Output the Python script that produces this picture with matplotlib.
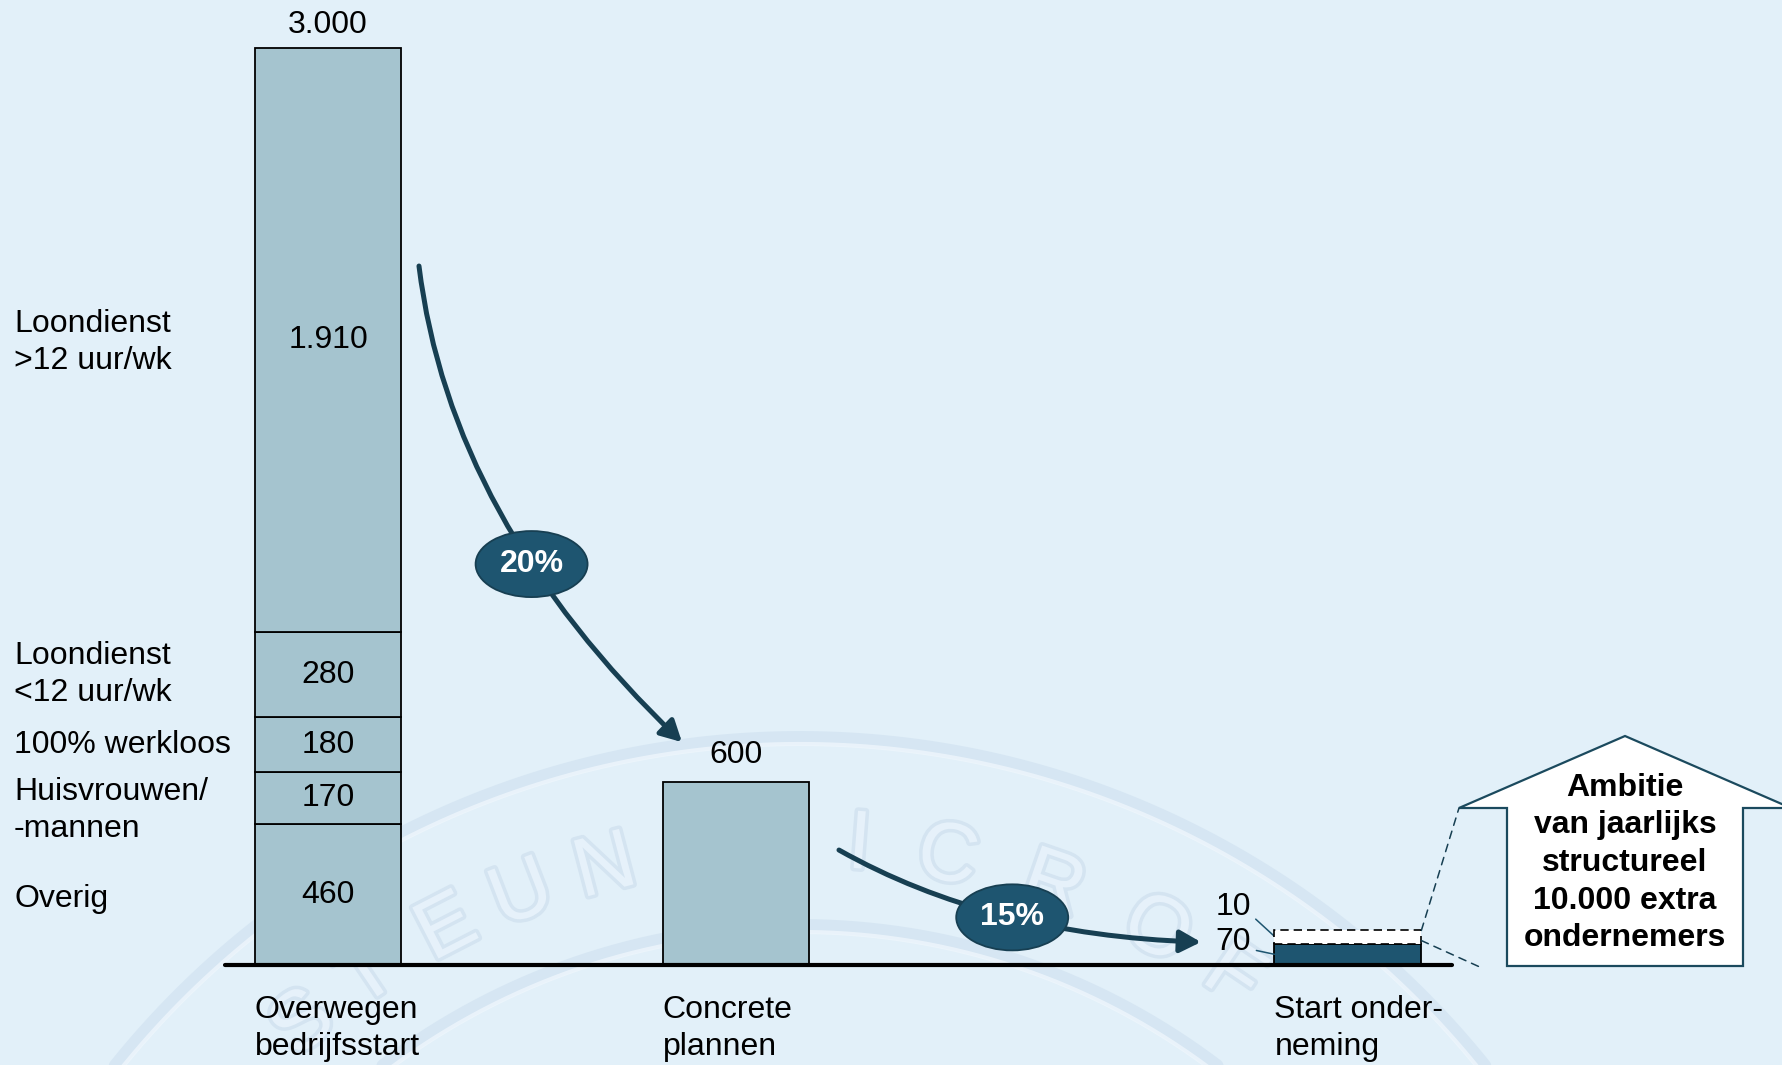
import numpy as np
import matplotlib
matplotlib.use("Agg")
import matplotlib.pyplot as plt
import matplotlib.patheffects as pe
from matplotlib import transforms
from matplotlib.patches import Ellipse, Polygon, FancyArrowPatch, Rectangle, ConnectionPatch
from matplotlib.path import Path

plt.rcParams['font.family'] = ['Liberation Sans', 'DejaVu Sans']

# ---- data -------------------------------------------------------------
stages = ["Overwegen\nbedrijfsstart", "Concrete\nplannen", "Start onder-\nneming"]
stage_pos = [0.0, 1.0, 2.5]

segment_labels = ["Overig", "Huisvrouwen/\n-mannen", "100% werkloos",
                  "Loondienst\n<12 uur/wk", "Loondienst\n>12 uur/wk"]
segment_values = [460, 170, 180, 280, 1910]
label_nudge_pt = [-3, -9, 0, 0, -2]   # small vertical nudges of the side labels

total_considering = 3000
concrete_plans = 600
starters = 70
ambition_extra = 10
conversion_labels = ["20%", "15%"]

ambition_text = "Ambitie\nvan jaarlijks\nstructureel\n10.000 extra\nondernemers"

# ---- style ------------------------------------------------------------
W, H, DPI = 1782, 1065, 100
BG = "#E2F0F9"
LIGHT = "#A5C4CF"
DARK = "#1E5570"
ARROW = "#173F52"
FS = 23
BW = 0.36
DETAIL = 4.3   # the thin ambition segment is enlarged so it stays readable


def nl(v):
    return f"{v:,}".replace(",", ".")


fig = plt.figure(figsize=(W / DPI, H / DPI), dpi=DPI)
fig.patch.set_facecolor(BG)

# background layer (pixel space) for the seal watermark and the callout
bg = fig.add_axes([0, 0, 1, 1])
bg.set_xlim(0, W)
bg.set_ylim(H, 0)
bg.axis("off")
bg.set_zorder(0)

ax = fig.add_axes([0, 0, 1, 1])
ax.set_zorder(1)
ax.set_facecolor("none")
ax.axis("off")
ax.set_xlim(-0.804, 3.564)
ax.set_ylim(-327, 3156)

# ---- watermark seal -----------------------------------------------------
cx, cy = 800, 1616
th = np.radians(np.linspace(15, 165, 400))
for R in (878, 690):
    bg.plot(cx + R * np.cos(th), cy - R * np.sin(th), color="#d3e4f2", lw=10,
            alpha=0.8, solid_capstyle="round", zorder=0)
    bg.plot(cx + (R - 6) * np.cos(th), cy - (R - 6) * np.sin(th), color="#eef6fc",
            lw=3, alpha=0.8, zorder=0)
wm_letters = ["S", "T", "E", "U", "N", "M", "I", "C", "R", "O", "F"]
wm_angles = [130, 124, 117.2, 111.1, 104.6, 95, 85.6, 79, 70.9, 62.5, 55.9]
for ch, a in zip(wm_letters, wm_angles):
    r = 772
    x, y = cx + r * np.cos(np.radians(a)), cy - r * np.sin(np.radians(a))
    bg.text(x, y, ch, fontsize=60, rotation=a - 90, ha="center", va="center",
            color="#e6f1fa", rotation_mode="anchor", zorder=0,
            path_effects=[pe.withStroke(linewidth=5, foreground="#d4e4f1")])

# ---- bars -------------------------------------------------------------
bottoms = np.concatenate([[0], np.cumsum(segment_values)[:-1]])
ax.bar(stage_pos[0], segment_values, bottom=bottoms, width=BW, color=LIGHT,
       edgecolor="black", linewidth=1.3, zorder=3)
ax.bar(stage_pos[1], concrete_plans, width=BW, color=LIGHT,
       edgecolor="black", linewidth=1.3, zorder=3)
ax.bar(stage_pos[2], starters, width=BW, color=DARK,
       edgecolor="black", linewidth=1.3, zorder=3)

# dashed ambition segment on top of the starters bar
amb_x0 = stage_pos[2] - BW / 2
amb_top = starters + ambition_extra * DETAIL
ax.add_patch(Rectangle((amb_x0, starters), BW, ambition_extra * DETAIL,
                       facecolor="white", edgecolor="black", linewidth=1.2,
                       linestyle=(0, (5, 3)), zorder=4))

# segment values
for b, v in zip(bottoms, segment_values):
    ax.text(stage_pos[0], b + v / 2, nl(v), ha="center", va="center",
            fontsize=FS, zorder=5)
ax.annotate(nl(total_considering), (stage_pos[0], total_considering),
            xytext=(0, 16), textcoords="offset points", ha="center",
            va="center", fontsize=FS)
ax.annotate(nl(concrete_plans), (stage_pos[1], concrete_plans),
            xytext=(0, 19), textcoords="offset points", ha="center",
            va="center", fontsize=FS)

# small values on the last stage with leader lines
lead = dict(arrowstyle="-", color=DARK, lw=1.1, shrinkA=2, shrinkB=0,
            relpos=(1.0, 0.25))
ax.annotate(nl(ambition_extra), (amb_x0, starters + ambition_extra * DETAIL * 0.55),
            xytext=(-17, 21), textcoords="offset points", ha="right",
            va="center", fontsize=FS, arrowprops=lead)
ax.annotate(nl(starters), (amb_x0, starters / 2),
            xytext=(-17, 9), textcoords="offset points", ha="right",
            va="center", fontsize=FS, arrowprops=lead)

# labels of the first bar's breakdown
for b, v, lab, dy in zip(bottoms, segment_values, segment_labels, label_nudge_pt):
    tr = transforms.offset_copy(
        transforms.blended_transform_factory(ax.transAxes, ax.transData),
        fig=fig, x=0, y=dy, units="points")
    ax.text(0.0079, b + v / 2, lab, transform=tr, ha="left", va="center",
            fontsize=FS, linespacing=1.3)

# stage names under the axis
cat_tr = transforms.blended_transform_factory(ax.transData, ax.transAxes)
for p, s in zip(stage_pos, stages):
    ax.text(p - BW / 2, 0.0345, s, transform=cat_tr, ha="left", va="center",
            fontsize=FS, linespacing=1.3)

# baseline
ax.plot([stage_pos[0] - BW / 2 - 0.072, stage_pos[2] + BW / 2 + 0.075], [0, 0],
        color="black", lw=3.0, solid_capstyle="round", zorder=6)

# ---- conversion arrows --------------------------------------------------
arrows = [
    ((0.2230, 2286), (0.2990, 1455), (0.8676, 729), 0.61),
    ((1.2525, 376), (1.6225, 98), (2.1397, 75), 0.52),
]
for (p0, c, p2, t), lab in zip(arrows, conversion_labels):
    p0, c, p2 = map(np.array, (p0, c, p2))
    path = Path([p0, c, p2], [Path.MOVETO, Path.CURVE3, Path.CURVE3])
    ax.add_patch(FancyArrowPatch(path=path, arrowstyle="-|>,head_length=0.6,head_width=0.32",
                                 mutation_scale=21, lw=3.6, color=ARROW, zorder=7))
    mid = (1 - t) ** 2 * p0 + 2 * t * (1 - t) * c + t ** 2 * p2
    ax.add_patch(Ellipse(mid, 0.2745, 216, facecolor=DARK, edgecolor=ARROW,
                         lw=1.3, zorder=8))
    ax.text(mid[0], mid[1], lab, color="white", fontsize=FS, fontweight="bold",
            ha="center", va="center", zorder=9)

# ---- ambition callout ---------------------------------------------------
house = [(1459, 808), (1625, 736), (1791, 808), (1743, 808), (1743, 966),
         (1507, 966), (1507, 808)]
bg.add_patch(Polygon(house, closed=True, facecolor="white", edgecolor="#1B4A5E",
                     lw=1.6, zorder=5, clip_on=False))
fig.text(1625 / W, 1 - 863 / H, ambition_text, ha="center", va="center",
         fontsize=FS, fontweight="bold", linespacing=1.33, zorder=10)

dash = dict(color=ARROW, lw=1.1, linestyle=(0, (5, 4)), zorder=6)
fig.add_artist(ConnectionPatch((amb_x0 + BW, amb_top), (1459, 808),
                               coordsA=ax.transData, coordsB=bg.transData, **dash))
fig.add_artist(ConnectionPatch((amb_x0 + BW, starters + ambition_extra), (1482, 968),
                               coordsA=ax.transData, coordsB=bg.transData, **dash))

fig.savefig("out.png", dpi=DPI, facecolor=BG)
